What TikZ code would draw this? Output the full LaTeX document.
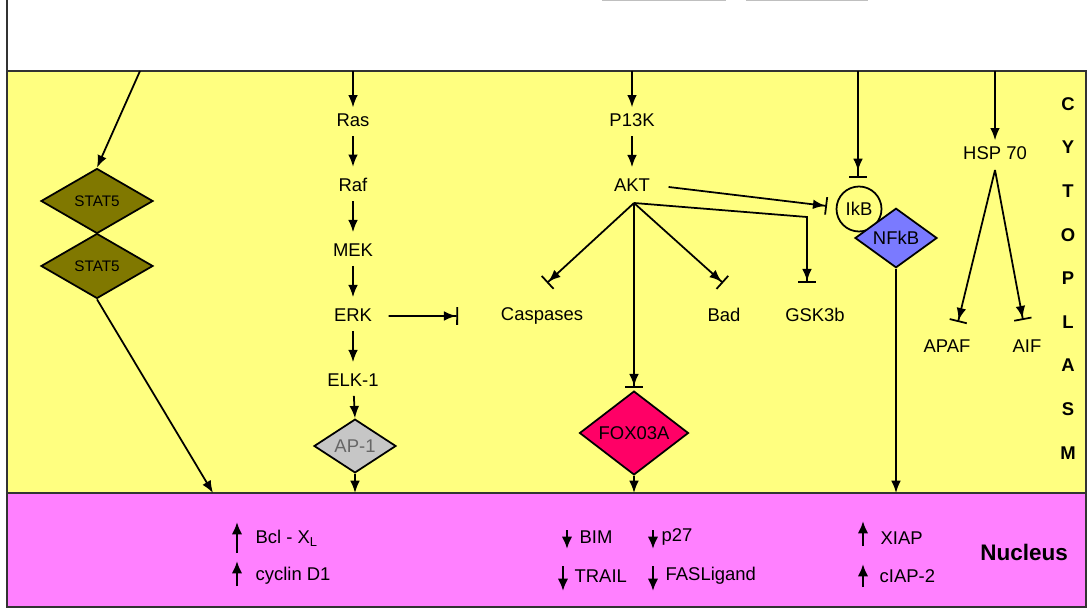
\documentclass[tikz,border=0pt]{standalone}
\usepackage{fontspec}
\setmainfont{Liberation Sans}
\usetikzlibrary{arrows.meta,shapes,positioning,calc}

\definecolor{cytoyellow}{RGB}{255,255,128}
\definecolor{nucpink}{RGB}{255,128,255}
\definecolor{statolive}{RGB}{128,120,0}
\definecolor{foxpink}{RGB}{255,0,102}
\definecolor{nfkbblue}{RGB}{122,122,255}

\begin{document}
\begin{tikzpicture}[x=0.02cm, y=-0.02cm, node distance=1.3cm, line width=1pt,
                act/.style={-{Latex[length=7pt,width=5.5pt]}},
                inh/.style={-{Latex[length=7pt,width=5.5pt]Bar[width=10pt]}},
                mol/.style={font=\fontsize{10.5}{12}\selectfont, inner sep=1pt},
                tf/.style={diamond, draw, inner sep=0pt, font=\fontsize{10.5}{12}\selectfont},
                updown/.style={-{Latex[length=7pt,width=6pt]}, line width=1.6pt}]
		\useasboundingbox (0,0) rectangle (1087,611);
		% compartments
		\draw[black!80, line width=1.2pt, fill=cytoyellow] (7,71) rectangle (1086,493);
		\draw[black!80, line width=1.2pt, fill=nucpink] (7,493) rectangle (1086,607);
		\draw[black!80, line width=1.2pt] (7,0) -- (7,71);
		\draw[gray!50] (602,0.6) -- (726,0.6) (746,0.6) -- (868,0.6);
		\foreach \l [count=\i from 0] in {C,Y,T,O,P,L,A,S,M}
			\node[mol, font=\bfseries\fontsize{10.5}{12}\selectfont] (cyto\i) at (1068,{104+43.6*\i}) {\l};
		\node[font=\bfseries\fontsize{12.8}{15}\selectfont] (nucleus) at (1024,552) {Nucleus};

		\begin{scope}
			% membrane end points
			\coordinate (m1) at (140,71);
			\coordinate (m2) at (353,71);
			\coordinate (m3) at (632,71);
			\coordinate (m4) at (858,71);
			\coordinate (m5) at (995,71);
			\coordinate (n1) at (213,493);
			\coordinate (n2) at (355,493);
			\coordinate (n3) at (634,493);
			\coordinate (n4) at (896,493);

			\node [tf, fill=statolive, minimum width=2.24cm, minimum height=1.3cm,
			       font=\fontsize{8.7}{10}\selectfont] (stata) at (97,201) {STAT5};
			\node [tf, fill=statolive, minimum width=2.24cm, minimum height=1.3cm,
			       font=\fontsize{8.7}{10}\selectfont] (statb) [below of=stata] {STAT5};

			\node [mol] (ras) at (353,120) {Ras};
			\node [mol] (raf) [below of=ras] {Raf};
			\node [mol] (mek) [below of=raf] {MEK};
			\node [mol] (erk) [below of=mek] {ERK};
			\node [mol] (elk) [below of=erk] {ELK-1};
			\node [tf, fill=gray!45, text=black!60, minimum width=1.64cm, minimum height=0.94cm] (ap1) at (355,446) {AP-1};

			\node [mol] (pi3k) at (632,120) {P13K};
			\node [mol] (akt) [below of=pi3k] {AKT};
			\node [mol] (casp) at (542,316) {Caspases};
			\node [mol] (bad) at (724,315) {Bad};
			\node [mol] (gsk) at (815,315) {GSK3b};
			\node [tf, fill=foxpink, minimum width=2.18cm, minimum height=1.14cm] (fox) at (634,433) {FOX03A};

			\node [circle, draw, inner sep=0pt, minimum size=0.9cm, mol] (ikb) at (859,209) {IkB};
			\node [tf, fill=nfkbblue, minimum width=1.64cm, minimum height=0.98cm] (nfkb) at (896,238) {NFkB};

			\node [mol] (hsp) at (995,153) {HSP 70};
			\node [mol] (apaf) at (947,346) {APAF};
			\node [mol] (aif) at (1027,346) {AIF};

			% ends of the inhibition bars
			\coordinate (aktfan) at (634,203);
			\coordinate (hspfan) at (995,170);
			\coordinate (erkbar) at (458,316);
			\coordinate (caspbar) at (547,283);
			\coordinate (badbar) at (723,283);
			\coordinate (gskturn) at (807,217);
			\coordinate (gskbar) at (807,283);
			\coordinate (foxbar) at (634,388);
			\coordinate (ikbbar) at (827,206);
			\coordinate (nfbar) at (858,178);
			\coordinate (apafbar) at (958,322);
			\coordinate (aifbar) at (1023,320);

			\path (m1) edge [act] (stata.north)
			      (statb.south) edge [act] (n1)
			      (m2) edge [act, shorten >=2pt] (ras)
			      (ras) edge [act, shorten <=4pt, shorten >=5pt] (raf)
			      (raf) edge [act, shorten <=4pt, shorten >=5pt] (mek)
			      (mek) edge [act, shorten <=4pt, shorten >=5pt] (erk)
			      (erk) edge [act, shorten <=4pt, shorten >=5pt] (elk)
			      (elk) edge [act, shorten <=4pt] (ap1.north)
			      (ap1.south) edge [act] (n2)
			      ($(erk.east)+(14,1)$) edge [inh] (erkbar);

			\path (m3) edge [act, shorten >=2pt] (pi3k)
			      (pi3k) edge [act, shorten <=4pt, shorten >=5pt] (akt)
			      ($(akt.east)+(16,2)$) edge [inh] (ikbbar)
			      (aktfan) edge [inh] (caspbar)
			      (aktfan) edge [inh] (badbar)
			      (aktfan) edge [inh] (foxbar)
			      (fox.south) edge [act] (n3);
			\draw [inh] (aktfan) -- (gskturn) -- (gskbar);

			\path (m4) edge [-{Latex[length=7pt,width=5.5pt,sep=3pt]Bar[width=10pt]}] (nfbar)
			      (nfkb.south) edge [act] (n4)
			      (m5) edge [act, shorten >=2pt] (hsp)
			      (hspfan) edge [inh] (apafbar)
			      (hspfan) edge [inh] (aifbar);
		\end{scope}

		% nucleus
		\node [mol, anchor=west] (bcl) at (253,538) {Bcl - X\textsubscript{L}};
		\node [mol, anchor=west] (cyc) at (253,576) {cyclin D1};
		\node [mol, anchor=west] (bim) at (577,537) {BIM};
		\node [mol, anchor=west] (trail) at (572,576) {TRAIL};
		\node [mol, anchor=west] (p27) at (659,537) {p27};
		\node [mol, anchor=west] (fasl) at (663,576) {FASLigand};
		\node [mol, anchor=west] (xiap) at (878,538) {XIAP};
		\node [mol, anchor=west] (ciap) at (877,576) {cIAP-2};
		\draw [updown] ($(bcl.west)+(-16,15)$) -- ++(0,-31);
		\draw [updown] ($(cyc.west)+(-16,10)$) -- ++(0,-25);
		\draw [updown] ($(bim.west)+(-10,-7)$) -- ++(0,19);
		\draw [updown] ($(trail.west)+(-9,-10)$) -- ++(0,25);
		\draw [updown] ($(p27.west)+(-6,-7)$) -- ++(0,19);
		\draw [updown] ($(fasl.west)+(-10,-10)$) -- ++(0,25);
		\draw [updown] ($(xiap.west)+(-15,8)$) -- ++(0,-25);
		\draw [updown] ($(ciap.west)+(-14,11)$) -- ++(0,-23);
		\end{tikzpicture}
\end{document}
